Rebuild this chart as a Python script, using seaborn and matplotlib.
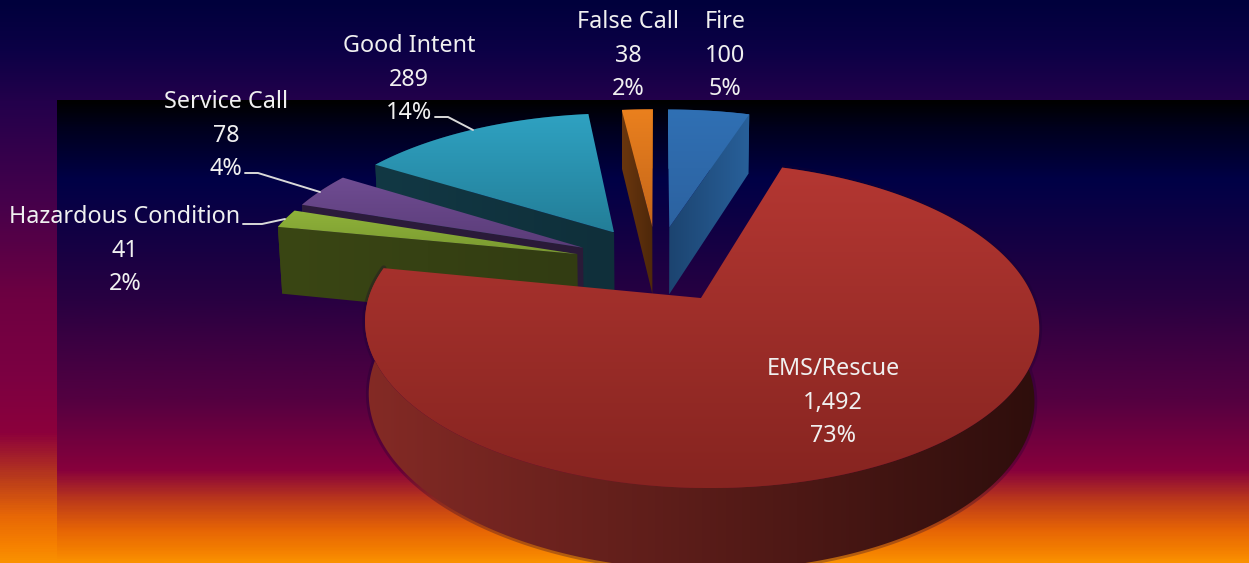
import numpy as np
import matplotlib
matplotlib.use('Agg')
import matplotlib.pyplot as plt
import seaborn as sns
from matplotlib.colors import LinearSegmentedColormap
from matplotlib.patches import Polygon

sns.set_style('white')
plt.rcParams['font.family'] = ['Noto Sans', 'DejaVu Sans']

categories = ['Fire', 'EMS/Rescue', 'Hazardous Condition', 'Service Call', 'Good Intent', 'False Call']
values = [100, 1492, 41, 78, 289, 38]
percents = [5, 73, 2, 4, 14, 2]

# top surface back/front, side left/right
top_colors = [('#3070B4', '#2C62A0'), ('#B43732', '#862420'), ('#8FB23A', '#7A9A30'),
              ('#6F4C92', '#5A3C78'), ('#2FA2C2', '#237E98'), ('#EA801E', '#C4661A')]
side_colors = [('#1C4470', '#28609A'), ('#842A25', '#2E0E0C'), ('#3A4614', '#323C12'),
               ('#2C1C3C', '#2A1A38'), ('#123844', '#0F2F3A'), ('#6A360E', '#4E280A')]

label_xy = [(725, 10), (628, 10), (409, 34), (226, 90), (125, 205), (833, 357)]
label_xy = dict(zip(['Fire', 'False Call', 'Good Intent', 'Service Call', 'Hazardous Condition', 'EMS/Rescue'], label_xy))
leaders = [[(435, 117), (448, 117), (473, 130)],
           [(245, 173), (258, 173), (320, 192)],
           [(243, 224), (262, 224), (285, 219)]]

# backdrop stops, outer panel and inner panel
outer_stops = [(0, '#00003C'), (0.09, '#0C0046'), (0.18, '#23004B'), (0.36, '#46004B'), (0.53, '#6E0041'),
               (0.68, '#7D0041'), (0.77, '#8C003C'), (0.85, '#B83A1C'), (0.92, '#E86806'), (0.97, '#F68000'), (1, '#FA9100')]
inner_stops = [(0, '#000000'), (0.06, '#00001E'), (0.17, '#000046'), (0.43, '#280041'), (0.65, '#550041'),
               (0.80, '#87003C'), (0.87, '#BE3C19'), (0.93, '#E66405'), (0.98, '#F58200'), (1, '#FA9100')]

W, H = 1249, 563
EXPLODE = 0.26
CX, CY, F, G, K, T, M = 657, 263.8, 320.5, 147.4, 0.1597, 70, 0.012


def project(u, v, d=0):
    den = 1 + K * v + M * d
    return CX + F * u / den, CY - (G * v - T * d) / den


def grad_fill(ax, pts, c0, c1, vertical=True):
    pts = np.asarray(pts)
    poly = Polygon(pts, closed=True, transform=ax.transData, facecolor='none', edgecolor='none')
    ax.add_patch(poly)
    ramp = np.linspace(0, 1, 128)
    ramp = ramp[:, None] if vertical else ramp[None, :]
    x0, x1, y0, y1 = pts[:, 0].min(), pts[:, 0].max(), pts[:, 1].min(), pts[:, 1].max()
    im = ax.imshow(ramp, cmap=sns.blend_palette([c0, c1], as_cmap=True), vmin=0, vmax=1,
                   extent=(x0, x1, y1, y0), aspect='auto', interpolation='bilinear', zorder=ax._n)
    im.set_clip_path(poly)
    ax._n += 1


def area(p):
    x, y = np.asarray(p).T
    return np.sum(x * np.roll(y, -1) - np.roll(x, -1) * y)


fig = plt.figure(figsize=(W / 100, H / 100), dpi=100)
ax = fig.add_axes([0, 0, 1, 1])
ax._n = 3

ramp = np.linspace(0, 1, 563)[:, None]
ax.imshow(ramp, cmap=LinearSegmentedColormap.from_list('outer', outer_stops), extent=(0, W, H, 0), aspect='auto', zorder=1)
ax.imshow(ramp, cmap=LinearSegmentedColormap.from_list('inner', inner_stops), extent=(57, W, H, 100), aspect='auto', zorder=2)

total = sum(values)
edges = np.cumsum([0] + values) / total * 360
draw_order = [0, 5, 4, 3, 2, 1]

for i in draw_order:
    start, end = edges[i], edges[i + 1]
    mid = np.radians((start + end) / 2)
    ou, ov = EXPLODE * np.sin(mid), EXPLODE * np.cos(mid)
    th = np.radians(np.linspace(start, end, max(int(end - start) * 2, 12)))
    u, v = ou + np.sin(th), ov + np.cos(th)
    top = np.column_stack(project(u, v))
    bot = np.column_stack(project(u, v, 1))
    apex_top = project(ou, ov)
    apex_bot = project(ou, ov, 1)

    if i == 1:
        # dark halo round the big slice
        halo = Polygon(np.vstack([top, bot[::-1]]), closed=True, facecolor='none', edgecolor='#1A0030',
                       alpha=0.3, lw=4, zorder=ax._n, joinstyle='round')
        ax.add_patch(halo)
        ax._n += 1

    grad_fill(ax, np.vstack([top, bot[::-1]]), side_colors[i][0], side_colors[i][1], vertical=False)
    for corner, sign in ((0, -1), (-1, 1)):
        face = [apex_top, top[corner], bot[corner], apex_bot]
        if area(face) * sign > 2000:
            grad_fill(ax, face, side_colors[i][0], side_colors[i][1], vertical=False)
    grad_fill(ax, np.vstack([[apex_top], top]), top_colors[i][0], top_colors[i][1])

for pts in leaders:
    ax.plot(*zip(*pts), color='#D9D9D9', lw=1.4, zorder=ax._n + 1)

for name, val, pct in zip(categories, values, percents):
    x, y = label_xy[name]
    ax.text(x, y, f'{name}\n{val:,}\n{pct}%', color='#F0F0F0', fontsize=16.8, ha='center', va='top',
            linespacing=1.53, zorder=ax._n + 2)

ax.set_xlim(0, W)
ax.set_ylim(H, 0)
ax.axis('off')
fig.savefig('out.png', dpi=100)
